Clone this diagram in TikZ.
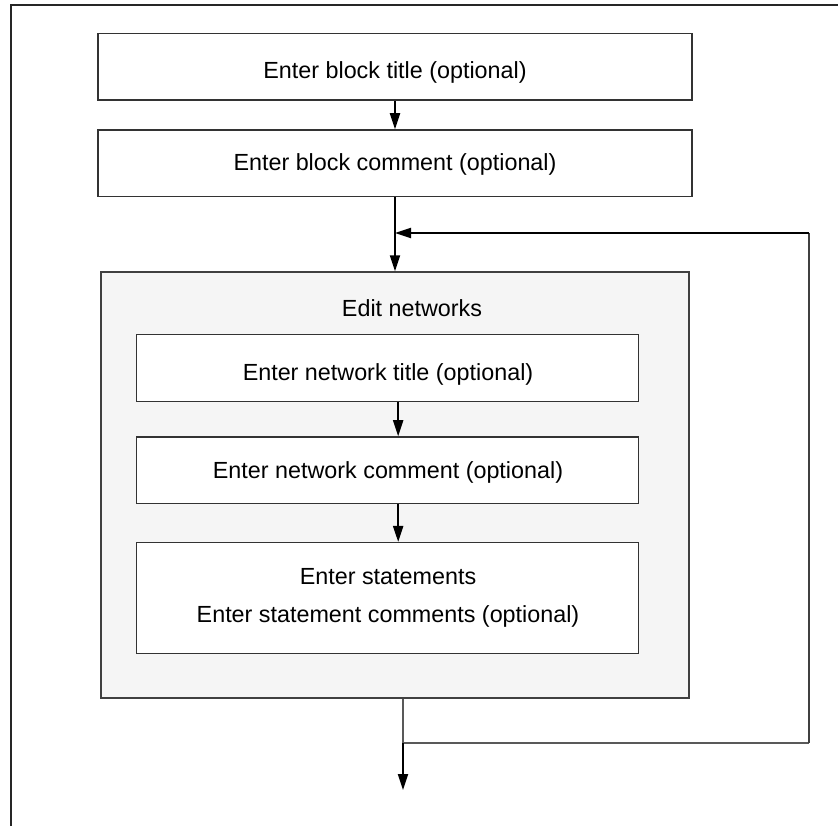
\documentclass[tikz,border=0pt]{standalone}
\usepackage{fontspec}
\setmainfont{Liberation Sans}
\usetikzlibrary{arrows.meta}
\begin{document}
\begin{tikzpicture}[x=0.75pt,y=-0.75pt,
  box/.style={draw=black!80, line width=1.1pt, fill=white, inner sep=0pt},
  outerbox/.style={draw=black!75, line width=1.1pt, fill=black!4, inner sep=0pt},
  flow/.style={line width=1.5pt, -{Triangle[length=12pt,width=7.5pt]}},
  thinline/.style={line width=1pt, draw=black!65},
  lbl/.style={font=\fontsize{17.5}{21}\selectfont, inner sep=0pt}]
\useasboundingbox (0,0) rectangle (838,826);
% frame
\draw[line width=1.6pt, black!85] (11,826) -- (11,5) -- (838,5);
% top blocks
\node[box, minimum width=445.5pt, minimum height=50pt] (b1) at (395,66.75) {};
\node[lbl] (b1t) at (395,72) {Enter block title (optional)};
\node[box, minimum width=445.5pt, minimum height=50pt] (b2) at (395,163.3) {};
\node[lbl] (b2t) at (395,164) {Enter block comment (optional)};
% big box
\node[outerbox, minimum width=441pt, minimum height=319.5pt] (edit) at (395,485) {};
\node[lbl] (edittitle) at (412,308) {Edit networks};
% inner boxes
\node[box, minimum width=376.2pt, minimum height=50pt] (n1) at (387.5,368) {};
\node[lbl] (n1t) at (388,374) {Enter network title (optional)};
\node[box, minimum width=376.2pt, minimum height=50pt] (n2) at (387.5,470.3) {};
\node[lbl] (n2t) at (388,472) {Enter network comment (optional)};
\node[box, minimum width=376.2pt, minimum height=83pt] (n3) at (387.5,598) {};
\node[lbl] (s1) at (388,577) {Enter statements};
\node[lbl] (s2) at (388,616) {Enter statement comments (optional)};
% coordinates
\coordinate (join) at (395,233);
\coordinate (rtop) at (809,233);
\coordinate (rbot) at (809,743);
\coordinate (exit) at (403,743);
\coordinate (endp) at (403,790);
% connectors
\draw[flow] (b1.south) -- (b2.north);
\draw[flow] (b2.south) -- (edit.north);
\draw[flow] ([xshift=8pt]n1.south) -- ([xshift=8pt]n2.north);
\draw[flow] ([xshift=8pt]n2.south) -- ([xshift=8pt]n3.north);
\draw[thinline] (edit.south -| exit) -- (exit) -- (rbot);
\draw[line width=1pt, black!75] (rbot) -- (rtop);
\draw[flow] (rtop) -- (join);
\draw[flow] (exit) -- (endp);
\end{tikzpicture}
\end{document}
